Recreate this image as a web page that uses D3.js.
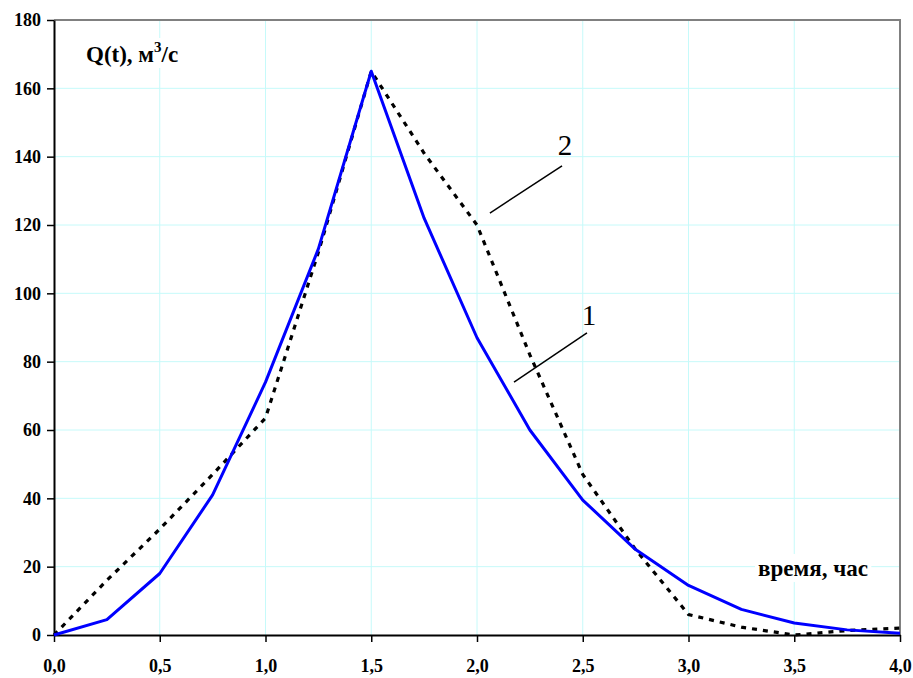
<!DOCTYPE html>
<html>
<head>
<meta charset="utf-8">
<script src="https://cdn.jsdelivr.net/npm/d3@7"></script>
<style>
  body { margin: 0; background: #fff; }
  svg { display: block; }
  svg text { font-family: "Liberation Serif", "Times New Roman", "DejaVu Serif", serif; }
</style>
</head>
<body>
<svg id="chart"></svg>
<script>
// время, час
var times = [0, 0.25, 0.5, 0.75, 1.0, 1.25, 1.5, 1.75, 2.0, 2.25, 2.5, 2.75, 3.0, 3.25, 3.5, 3.75, 4.0];
// кривая 1 (сплошная синяя)
var q1 = [0, 4.5, 18, 41, 74, 113, 165, 122, 87, 60, 39.5, 25, 14.5, 7.5, 3.5, 1.5, 0.5];
// кривая 2 (пунктир)
var q2 = [0, 16, 31, 47, 63.5, 112, 165, 141, 120, 82, 47, 25, 6, 2.3, 0, 1.3, 2];

var xTicks = [0, 0.5, 1, 1.5, 2, 2.5, 3, 3.5, 4];
var yTicks = [0, 20, 40, 60, 80, 100, 120, 140, 160, 180];

// подписи кривых: [номер, t, Q текста, t1, Q1, t2, Q2 выноски]
var curveLabels = [
  ["2", 2.416, 140.5, 2.402, 137.3, 2.061, 123.5],
  ["1", 2.53, 90.7, 2.52, 88.4, 2.175, 74]
];

var width = 913, height = 678;
var margin = {top: 20, right: 13, bottom: 43, left: 54};

var svg = d3.select("#chart")
    .attr("width", width)
    .attr("height", height);

var x = d3.scaleLinear()
    .domain([0, 4])
    .range([margin.left, width - margin.right]);

var y = d3.scaleLinear()
    .domain([0, 180])
    .range([height - margin.bottom, margin.top]);

// сетка
var grid = svg.append("g").attr("stroke", "#c6fafa").attr("stroke-width", 1);
grid.selectAll(".gx")
    .data(xTicks.slice(1, -1))
    .join("line")
    .attr("x1", d => x(d)).attr("x2", d => x(d))
    .attr("y1", y(0)).attr("y2", y(180));
grid.selectAll(".gy")
    .data(yTicks.slice(1, -1))
    .join("line")
    .attr("x1", x(0)).attr("x2", x(4))
    .attr("y1", d => y(d)).attr("y2", d => y(d));

// рамка сверху и справа
svg.append("path")
    .attr("fill", "none")
    .attr("stroke", "#808080")
    .attr("stroke-width", 2)
    .attr("d", `M${x(0)},${y(180)}H${x(4)}V${y(0)}`);

// подписи осей (с белым фоном)
function boxedText(g) {
  var b = g.select("text").node().getBBox();
  g.insert("rect", "text")
    .attr("x", b.x - 3).attr("y", b.y - 1)
    .attr("width", b.width + 6).attr("height", b.height + 2)
    .attr("fill", "#fff");
}

var qLabel = svg.append("g");
var qt = qLabel.append("text")
    .attr("x", 86).attr("y", 62)
    .attr("font-size", 23)
    .attr("font-weight", "bold");
qt.append("tspan").text("Q(t), м");
qt.append("tspan").attr("font-size", 15).attr("dy", -10).text("3");
qt.append("tspan").attr("dy", 10).text("/с");
boxedText(qLabel);

var tLabel = svg.append("g");
tLabel.append("text")
    .attr("x", 758).attr("y", 576)
    .attr("font-size", 24)
    .attr("font-weight", "bold")
    .attr("textLength", 110)
    .attr("lengthAdjust", "spacingAndGlyphs")
    .text("время, час");
boxedText(tLabel);

// оси
var xAxis = svg.append("g")
    .attr("transform", `translate(0,${y(0)})`)
    .call(d3.axisBottom(x).tickValues(xTicks).tickSize(7).tickSizeOuter(0)
      .tickFormat(d => d3.format(".1f")(d).replace(".", ",")));
xAxis.attr("font-family", null);
xAxis.select(".domain").attr("stroke", "#000").attr("stroke-width", 2);
xAxis.selectAll(".tick line").attr("stroke-width", 1.5);
xAxis.selectAll(".tick text")
    .attr("y", 37)
    .attr("dy", 0)
    .attr("font-size", 18)
    .attr("font-weight", "bold")
    .attr("fill", "#000");

var yAxis = svg.append("g")
    .attr("transform", `translate(${x(0)},0)`)
    .call(d3.axisLeft(y).tickValues(yTicks).tickSize(7).tickSizeOuter(0));
yAxis.attr("font-family", null);
yAxis.select(".domain").attr("stroke", "#000").attr("stroke-width", 2);
yAxis.selectAll(".tick line").attr("stroke-width", 1.5);
yAxis.selectAll(".tick text")
    .attr("x", -13)
    .attr("font-size", 18)
    .attr("font-weight", "bold")
    .attr("fill", "#000");

// линии
var line = d3.line()
    .x((d, i) => x(times[i]))
    .y(d => y(d));

svg.append("path")
    .datum(q2)
    .attr("fill", "none")
    .attr("stroke", "#000")
    .attr("stroke-width", 3.2)
    .attr("stroke-dasharray", "5,6")
    .attr("d", line);

svg.append("path")
    .datum(q1)
    .attr("fill", "none")
    .attr("stroke", "#0000ff")
    .attr("stroke-width", 3)
    .attr("stroke-linejoin", "round")
    .attr("d", line);

// номера кривых с выносками
var ann = svg.append("g").selectAll("g")
    .data(curveLabels)
    .join("g");
ann.append("line")
    .attr("x1", d => x(d[3])).attr("y1", d => y(d[4]))
    .attr("x2", d => x(d[5])).attr("y2", d => y(d[6]))
    .attr("stroke", "#000")
    .attr("stroke-width", 1.5);
ann.append("text")
    .attr("x", d => x(d[1])).attr("y", d => y(d[2]))
    .attr("text-anchor", "middle")
    .attr("font-size", 29)
    .text(d => d[0]);
</script>
</body>
</html>
